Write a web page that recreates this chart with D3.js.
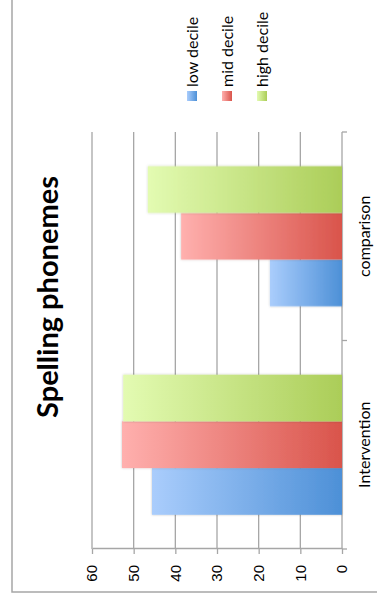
<!DOCTYPE html>
<html>
<head>
<meta charset="utf-8">
<script src="https://cdn.jsdelivr.net/npm/d3@7"></script>
<style>
	body { margin: 0; background: #fff; }
	svg { display: block; font-family: Lato, 'Open Sans', sans-serif; }
</style>
</head>
<body>
<div class="chart"></div>
<script>
// SPELLING PHONEMES - column chart drawn sideways (page is rotated)
const categories = ['Intervention', 'comparison'];
const series = ['low decile', 'mid decile', 'high decile'];
const lowDecile = [45.6, 17.3];
const midDecile = [52.8, 38.6];
const highDecile = [52.5, 46.6];
const yTicks = [0, 10, 20, 30, 40, 50, 60];

// light -> dark end of each series gradient
const colours = [
	['#aacdfc', '#4d90d7'],
	['#ffb0ae', '#d9544b'],
	['#e3fbb2', '#abcd58']
];

// the chart is laid out in its own (unrotated) frame, 604 wide x 377 high
const fullWidth = 604;
const fullHeight = 377;
const margin = {
	top: 92,
	right: 132,
	bottom: 35,
	left: 55
};
const width = fullWidth - margin.left - margin.right;
const height = fullHeight - margin.top - margin.bottom;

const svg = d3.select('.chart')
	.append('svg')
		.attr('width', fullHeight)
		.attr('height', fullWidth);

const defs = svg.append('defs');
colours.forEach((c, i) => {
	const grad = defs.append('linearGradient')
		.attr('id', 'grad' + i)
		.attr('x1', 0).attr('y1', 0)
		.attr('x2', 0).attr('y2', 1);
	grad.append('stop').attr('offset', '0%').attr('stop-color', c[0]);
	grad.append('stop').attr('offset', '100%').attr('stop-color', c[1]);
});
defs.append('filter')
	.attr('id', 'shadow')
	.attr('x', '-10%').attr('y', '-10%')
	.attr('width', '120%').attr('height', '120%')
	.append('feDropShadow')
		.attr('dx', 0).attr('dy', 0)
		.attr('stdDeviation', 1.2)
		.attr('flood-color', '#000')
		.attr('flood-opacity', 0.25);

// rotate the whole chart a quarter turn counter-clockwise
const chart = svg.append('g')
	.attr('transform', `translate(0, ${fullWidth}) rotate(-90)`);

// outer border (only the top and left edges fall inside the page)
chart.append('rect')
	.attr('x', 12)
	.attr('y', 12)
	.attr('width', fullWidth + 20)
	.attr('height', fullHeight + 20)
	.attr('fill', 'none')
	.attr('stroke', '#a6a6a6')
	.attr('stroke-width', 1.5);

const g = chart.append('g')
	.attr('transform', `translate(${margin.left}, ${margin.top})`);

const yScale = d3.scaleLinear()
	.domain([0, 60])
	.range([height, 0]);

const x0 = d3.scaleBand()
	.domain(categories)
	.range([0, width])
	.padding(0);

const pad = x0.bandwidth() * 0.164;
const x1 = d3.scaleBand()
	.domain(series)
	.range([pad, x0.bandwidth() - pad]);

// gridlines
g.selectAll('.grid')
	.data(yTicks)
	.enter()
	.append('line')
		.attr('class', 'grid')
		.attr('x1', 0)
		.attr('x2', width)
		.attr('y1', d => yScale(d))
		.attr('y2', d => yScale(d))
		.attr('stroke', '#a6a6a6')
		.attr('stroke-width', 1.3);

// value axis
const yAxis = d3.axisLeft(yScale)
	.tickValues(yTicks)
	.tickSize(5)
	.tickSizeOuter(0)
	.tickPadding(11);
g.append('g')
	.call(yAxis)
	.call(a => a.selectAll('line, path').attr('stroke', '#a6a6a6').attr('stroke-width', 1.3))
	.call(a => a.selectAll('text').attr('fill', '#000').style('font-size', '15px'));

// category axis ticks sit between the categories
const bounds = categories.map(c => x0(c)).concat([x0.range()[1]]);
g.selectAll('.ctick')
	.data(bounds)
	.enter()
	.append('line')
		.attr('class', 'ctick')
		.attr('x1', d => d)
		.attr('x2', d => d)
		.attr('y1', height)
		.attr('y2', height + 5)
		.attr('stroke', '#a6a6a6')
		.attr('stroke-width', 1.3);

g.selectAll('.clabel')
	.data(categories)
	.enter()
	.append('text')
		.attr('class', 'clabel')
		.attr('x', d => x0(d) + x0.bandwidth() / 2)
		.attr('y', height + 28)
		.attr('text-anchor', 'middle')
		.style('font-size', '16px')
		.text(d => d);

// bars
const barData = categories.map((c, i) => ({
	category: c,
	values: [lowDecile[i], midDecile[i], highDecile[i]]
}));

const groups = g.selectAll('.group')
	.data(barData)
	.enter()
	.append('g')
		.attr('class', 'group')
		.attr('transform', d => `translate(${x0(d.category)}, 0)`);

groups.selectAll('rect')
	.data(d => d.values.map((v, i) => ({series: series[i], i: i, value: v})))
	.enter()
	.append('rect')
		.attr('x', d => x1(d.series))
		.attr('y', d => yScale(d.value))
		.attr('width', x1.bandwidth())
		.attr('height', d => height - yScale(d.value))
		.attr('fill', d => `url(#grad${d.i})`)
		.attr('filter', 'url(#shadow)');

// title
chart.append('text')
	.attr('x', 307)
	.attr('y', 58)
	.attr('text-anchor', 'middle')
	.style('font-size', '29px')
	.style('font-weight', 'bold')
	.text('Spelling phonemes');

// legend
const legend = chart.append('g')
	.attr('transform', 'translate(503, 187)');

const item = legend.selectAll('.item')
	.data(series)
	.enter()
	.append('g')
		.attr('class', 'item')
		.attr('transform', (d, i) => `translate(0, ${i * 35})`);

item.append('rect')
	.attr('width', 10)
	.attr('height', 10)
	.attr('fill', (d, i) => `url(#grad${i})`);

item.append('text')
	.attr('x', 14)
	.attr('y', 5)
	.attr('dy', '0.35em')
	.style('font-size', '16px')
	.text(d => d);
</script>
</body>
</html>
